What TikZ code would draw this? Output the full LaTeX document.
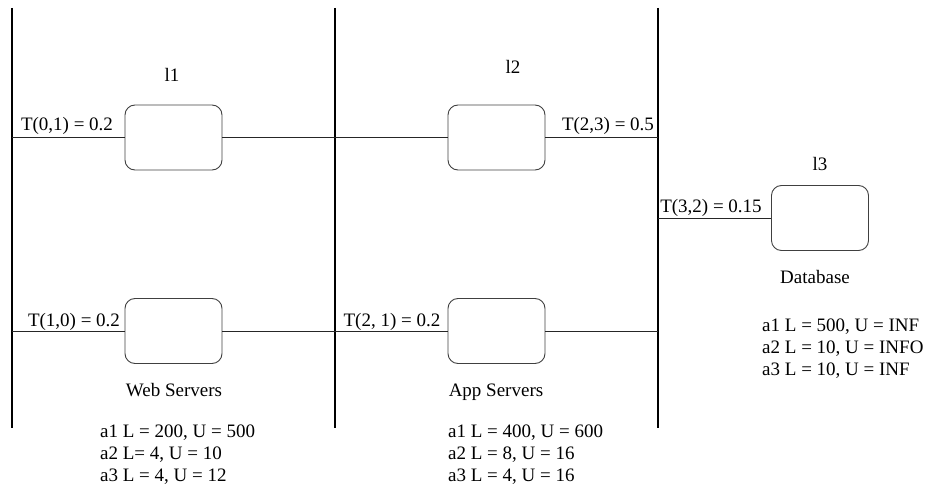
\documentclass[tikz,border=0pt]{standalone}
\usepackage{fontspec}
\setmainfont{Liberation Serif}
\begin{document}
\begin{tikzpicture}[x=1pt,y=-1pt,
  tier/.style={line width=1.6pt,black},
  link/.style={line width=0.9pt,black!85},
  server/.style={draw=black!75,line width=0.9pt,rounded corners=10pt,
    minimum width=97pt,minimum height=65pt,inner sep=0pt},
  lbl/.style={inner sep=0pt,anchor=base,font=\fontsize{19}{22}\selectfont},
  attr/.style={inner sep=0pt,anchor=base west,font=\fontsize{19}{22}\selectfont}]
\useasboundingbox (0,0) rectangle (938,487);

% tier boundaries
\coordinate (v1t) at (12,8);   \coordinate (v1b) at (12,428);
\coordinate (v2t) at (335,8);  \coordinate (v2b) at (335,428);
\coordinate (v3t) at (658,8);  \coordinate (v3b) at (658,428);
\draw[tier] (v1t) -- (v1b);
\draw[tier] (v2t) -- (v2b);
\draw[tier] (v3t) -- (v3b);

% servers
\node[server] (ws1) at (173.5,137.5) {};
\node[server] (as1) at (496.5,137.5) {};
\node[server] (db)  at (820,218) {};
\node[server] (ws2) at (173.5,331) {};
\node[server] (as2) at (496.5,331) {};

% tap points on the tier boundaries
\coordinate (p1a) at (12,137.5);
\coordinate (p3a) at (658,137.5);
\coordinate (p3c) at (658,218);
\coordinate (p1b) at (12,331);
\coordinate (p3b) at (658,331);

% links
\draw[link] (p1a) -- (ws1.west);
\draw[link] (ws1.east) -- (as1.west);
\draw[link] (as1.east) -- (p3a);
\draw[link] (p3c) -- (db.west);
\draw[link] (p1b) -- (ws2.west);
\draw[link] (ws2.east) -- (as2.west);
\draw[link] (as2.east) -- (p3b);

% tier names
\node[lbl] (n1) at (172,82) {l1};
\node[lbl] (n2) at (513,74) {l2};
\node[lbl] (n3) at (820,170) {l3};

% transition labels
\node[lbl] (t01) at (67,130) {T(0,1) = 0.2};
\node[lbl] (t23) at (608,130) {T(2,3) = 0.5};
\node[lbl] (t32) at (711,212) {T(3,2) = 0.15};
\node[lbl] (t10) at (74,326) {T(1,0) = 0.2};
\node[lbl] (t21) at (392,326) {T(2, 1) = 0.2};

% group names
\node[lbl] (gw) at (174,396) {Web Servers};
\node[lbl] (ga) at (496,396) {App Servers};
\node[lbl] (gd) at (815,283) {Database};

% resource bounds
\node[attr] (w1) at (100,437) {a1 L = 200, U = 500};
\node[attr] (w2) at (100,459) {a2 L= 4, U = 10};
\node[attr] (w3) at (100,481) {a3 L = 4, U = 12};
\node[attr] (a1) at (448,437) {a1 L = 400, U = 600};
\node[attr] (a2) at (448,459) {a2 L = 8, U = 16};
\node[attr] (a3) at (448,481) {a3 L = 4, U = 16};
\node[attr] (d1) at (762,331) {a1 L = 500, U = INF};
\node[attr] (d2) at (762,353) {a2 L = 10, U = INFO};
\node[attr] (d3) at (762,375) {a3 L = 10, U = INF};
\end{tikzpicture}
\end{document}
